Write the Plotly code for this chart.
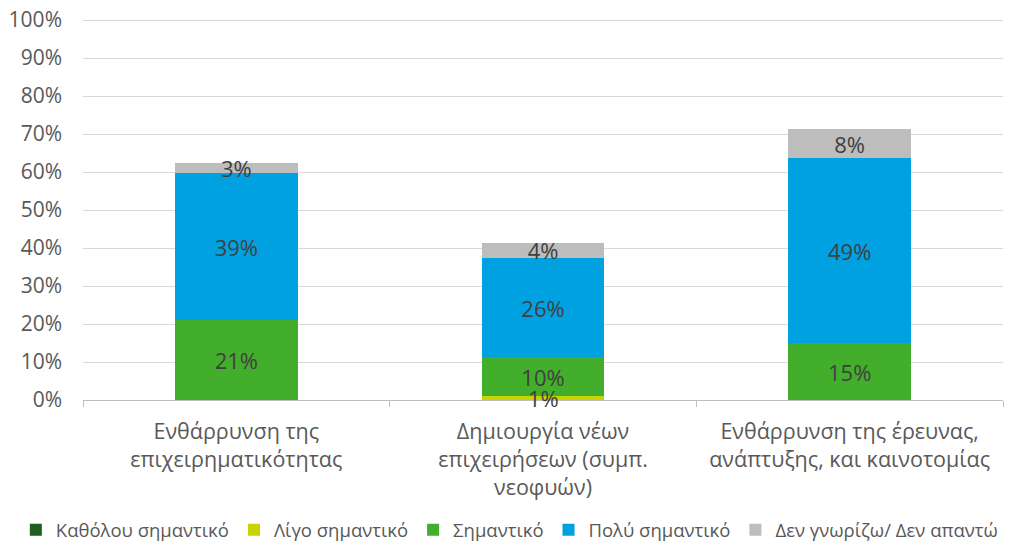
import plotly.graph_objects as go

# categories (x axis)
categories = [
    "Ενθάρρυνση της<br>επιχειρηματικότητας",
    "Δημιουργία νέων<br>επιχειρήσεων (συμπ.<br>νεοφυών)",
    "Ενθάρρυνση της έρευνας,<br>ανάπτυξης, και καινοτομίας",
]

# series values, % of respondents
katholou = [0, 0, 0]
ligo = [0, 1.0, 0]
simantiko = [21.1, 10.2, 15.0]
poly = [38.6, 26.3, 48.7]
den_gnorizo = [2.7, 3.8, 7.6]

series = [
    ("Καθόλου σημαντικό", katholou, "#1E5E20"),
    ("Λίγο σημαντικό", ligo, "#C8D400"),
    ("Σημαντικό", simantiko, "#43AE2C"),
    ("Πολύ σημαντικό", poly, "#00A1E0"),
    ("Δεν γνωρίζω/ Δεν απαντώ", den_gnorizo, "#BDBDBD"),
]

font_name = "Open Sans"
label_font = dict(family=font_name, size=22, color="#404040")

fig = go.Figure()
for name, vals, color in series:
    # the tiny "Λίγο σημαντικό" segment gets its label as an annotation (drawn on top)
    if name == "Λίγο σημαντικό":
        labels = ["" for v in vals]
    else:
        labels = [f"{round(v)}%" if v > 0 else "" for v in vals]
    fig.add_trace(go.Bar(
        name=name, x=categories, y=vals, marker_color=color,
        marker_line_width=0,
        text=labels, textposition="inside", insidetextanchor="middle",
        constraintext="none", textangle=0,
        textfont=label_font,
        hoverinfo="skip",
    ))

for cat, v in zip(categories, ligo):
    if v > 0:
        fig.add_annotation(x=cat, y=v / 2, text=f"{round(v)}%", showarrow=False,
                           yanchor="middle", font=label_font)

fig.update_layout(
    barmode="stack",
    bargap=0.6,
    width=1013,
    height=546,
    margin=dict(l=75, r=18, t=11, b=154, autoexpand=False),
    plot_bgcolor="white",
    paper_bgcolor="white",
    font=dict(family=font_name, size=20, color="#595959"),
    showlegend=True,
    legend=dict(
        orientation="h", x=-0.073, xanchor="left", y=-0.342, yanchor="middle",
        traceorder="normal",
        font=dict(family=font_name, size=18.5, color="#595959"),
        itemwidth=30, tracegroupgap=0,
    ),
    xaxis=dict(
        showline=True, linecolor="#BFBFBF", linewidth=1,
        ticks="outside", tickson="boundaries", ticklen=6, tickcolor="#BFBFBF",
        showgrid=False,
        tickfont=dict(family=font_name, size=21.5, color="#595959"),
        ticklabelstandoff=12,
    ),
    yaxis=dict(
        range=[0, 100.3], dtick=10, ticksuffix="%",
        showgrid=True, gridcolor="#D9D9D9", gridwidth=1,
        zeroline=False, showline=False,
        tickfont=dict(family=font_name, size=21, color="#595959"),
        ticklabelstandoff=20, ticklabeloverflow="allow",
    ),
)

fig.write_html("out.html")
